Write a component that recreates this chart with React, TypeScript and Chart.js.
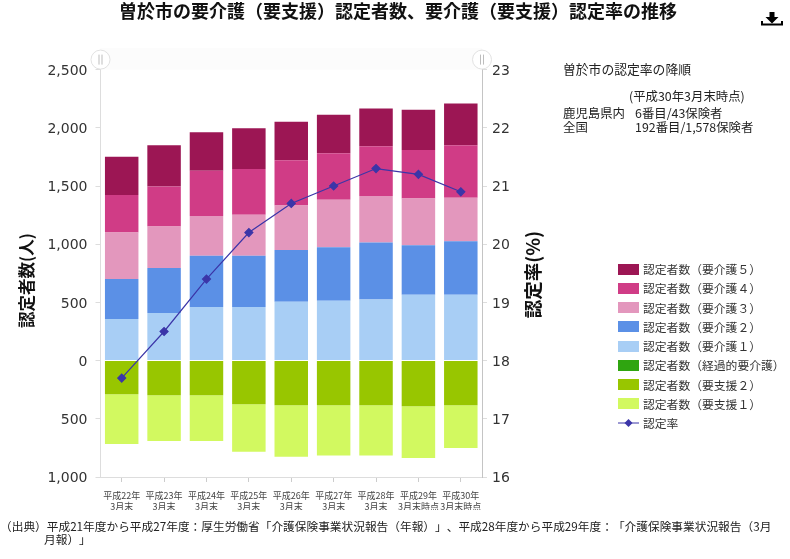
import React, { useEffect, useRef } from "react";
import { Chart, registerables } from "chart.js";

Chart.register(...registerables);

const CJK = '"Noto Sans CJK JP", "Noto Sans", sans-serif';
const LATIN = '"DejaVu Sans", sans-serif';

const titleText = "曽於市の要介護（要支援）認定者数、要介護（要支援）認定率の推移";
const leftAxisTitle = "認定者数(人)";
const rightAxisTitle = "認定率(%)";
const footnoteFirstLine =
  "（出典）平成21年度から平成27年度：厚生労働省「介護保険事業状況報告（年報）」、平成28年度から平成29年度：「介護保険事業状況報告（3月";
const footnoteSecondLine = "月報）」";

const categories = [
  ["平成22年", "3月末"],
  ["平成23年", "3月末"],
  ["平成24年", "3月末"],
  ["平成25年", "3月末"],
  ["平成26年", "3月末"],
  ["平成27年", "3月末"],
  ["平成28年", "3月末"],
  ["平成29年", "3月末時点"],
  ["平成30年", "3月末時点"],
];

const care1 = [358, 410, 460, 460, 505, 515, 525, 565, 565];
const care2 = [342, 386, 440, 440, 446, 459, 489, 426, 461];
const care3 = [400, 355, 343, 352, 381, 407, 401, 401, 372];
const care4 = [323, 344, 387, 395, 390, 401, 427, 418, 452];
const care5 = [329, 355, 332, 349, 331, 331, 323, 346, 358];
const transitional = [0, 0, 0, 0, 0, 0, 0, 0, 0];
const support2 = [-289, -297, -297, -375, -383, -383, -383, -392, -383];
const support1 = [-427, -393, -393, -409, -444, -433, -433, -444, -367];
const rate = [17.7, 18.5, 19.4, 20.2, 20.7, 21.0, 21.3, 21.2, 20.9];

const legendRows = [
  { label: "認定者数（要介護５）", color: "#9c1654" },
  { label: "認定者数（要介護４）", color: "#d03c86" },
  { label: "認定者数（要介護３）", color: "#e397bd" },
  { label: "認定者数（要介護２）", color: "#5b90e6" },
  { label: "認定者数（要介護１）", color: "#a8cef5" },
  { label: "認定者数（経過的要介護）", color: "#2fa510" },
  { label: "認定者数（要支援２）", color: "#98c600" },
  { label: "認定者数（要支援１）", color: "#d2f960" },
];
const rateLabel = "認定率";
const rateColor = "#3b35a8";

const seriesValues = [care5, care4, care3, care2, care1, transitional, support2, support1];
const stackOrder = [4, 3, 2, 1, 0, 5, 6, 7];

const handleAndTitles = {
  id: "handleAndTitles",
  beforeDraw(chart: any) {
    const { ctx, chartArea } = chart;
    ctx.save();
    ctx.fillStyle = "#fcfcfc";
    ctx.fillRect(chartArea.left, 48, chartArea.right - chartArea.left, chartArea.top - 48);
    ctx.restore();
    if (!chart.$labelsNudged) {
      chart.$labelsNudged = true;
      for (const id of ["y", "y2"]) {
        for (const item of chart.scales[id].getLabelItems(chartArea)) item.textOffset += 1.5;
      }
    }
  },
  afterDraw(chart: any) {
    const { ctx, chartArea } = chart;
    ctx.save();
    for (const x of [chartArea.left, chartArea.right]) {
      const cy = chartArea.top - 10;
      ctx.beginPath();
      ctx.arc(x, cy, 9.5, 0, Math.PI * 2);
      ctx.fillStyle = "#ffffff";
      ctx.fill();
      ctx.strokeStyle = "#e2e2e2";
      ctx.lineWidth = 1;
      ctx.stroke();
      ctx.strokeStyle = "#bdbdbd";
      ctx.beginPath();
      ctx.moveTo(x - 1.5, cy - 5);
      ctx.lineTo(x - 1.5, cy + 5);
      ctx.moveTo(x + 1.5, cy - 5);
      ctx.lineTo(x + 1.5, cy + 5);
      ctx.stroke();
    }
    ctx.fillStyle = "#111111";
    ctx.textAlign = "center";
    ctx.textBaseline = "middle";
    ctx.font = `bold 16.5px ${CJK}`;
    ctx.translate(27, chartArea.top + 211);
    ctx.rotate(-Math.PI / 2);
    ctx.fillText(leftAxisTitle, 0, 0);
    ctx.restore();
    ctx.save();
    ctx.fillStyle = "#111111";
    ctx.textAlign = "center";
    ctx.textBaseline = "middle";
    ctx.font = `bold 18.5px ${CJK}`;
    ctx.translate(533, chartArea.top + 205);
    ctx.rotate(-Math.PI / 2);
    ctx.fillText(rightAxisTitle, 0, 0);
    ctx.restore();
  },
};

const absolute = (s: React.CSSProperties): React.CSSProperties => ({ position: "absolute", whiteSpace: "nowrap", ...s });
const noSpacingTrim: any = { textSpacingTrim: "space-all", fontFeatureSettings: '"palt" 0' };
const noteStyle = { fontFamily: CJK, fontSize: 12.4, color: "#222", lineHeight: "14px", ...noSpacingTrim };
const legendTextStyle = { fontFamily: CJK, fontSize: 11.8, lineHeight: "14px", color: "#333", ...noSpacingTrim };
const footnoteStyle = { fontFamily: CJK, fontSize: 11.7, lineHeight: "13px", color: "#222", ...noSpacingTrim };

export default function App() {
  const ref = useRef<HTMLCanvasElement>(null);

  useEffect(() => {
    const barDatasets = stackOrder.map((i) => ({
      type: "bar" as const,
      label: legendRows[i].label,
      data: seriesValues[i],
      backgroundColor: legendRows[i].color,
      yAxisID: "y",
      stack: "counts",
      order: 1,
      barPercentage: 0.79,
      categoryPercentage: 1,
    }));
    const chart = new Chart(ref.current!, {
      data: {
        labels: categories,
        datasets: [
          {
            type: "line" as const,
            label: rateLabel,
            data: rate,
            yAxisID: "y2",
            order: 0,
            borderColor: rateColor,
            backgroundColor: rateColor,
            borderWidth: 1.2,
            pointStyle: "rectRot",
            pointRadius: 4,
            tension: 0,
          },
          ...barDatasets,
        ],
      } as any,
      plugins: [handleAndTitles],
      options: {
        responsive: false,
        animation: false,
        layout: { padding: { left: 6, right: 0, top: 0, bottom: 49 } },
        plugins: {
          legend: { display: false },
          tooltip: { enabled: false },
          title: {
            display: true,
            text: titleText,
            color: "#111",
            font: { family: CJK, size: 18, weight: "bold" },
            padding: { top: 0, bottom: 48 },
          },
        },
        scales: {
          x: {
            stacked: true,
            afterFit: (s: any) => { s.height = 33; },
            border: { color: "#dddddd" },
            grid: { offset: false, drawOnChartArea: false, tickLength: 5, color: "#cccccc" },
            ticks: {
              color: "#444",
              padding: 8,
              maxRotation: 0,
              autoSkip: false,
              font: { family: CJK, size: 9, lineHeight: 1.22 },
            },
          },
          y: {
            stacked: true,
            position: "left",
            min: -1000,
            max: 2500,
            afterFit: (s: any) => { s.width = 94.5; },
            border: { color: "#dddddd" },
            grid: { drawOnChartArea: false, tickLength: 5, color: "#dddddd" },
            ticks: {
              stepSize: 500,
              color: "#333",
              padding: 8,
              font: { family: LATIN, size: 14 },
              callback: (v: any) => Math.abs(Number(v)).toLocaleString("en-US"),
            },
          },
          y2: {
            position: "right",
            min: 16,
            max: 23,
            afterFit: (s: any) => { s.width = 308; },
            border: { color: "#c4c4c4" },
            grid: { drawOnChartArea: false, tickLength: 5, color: "#dddddd" },
            ticks: {
              stepSize: 1,
              color: "#333",
              padding: 5,
              font: { family: LATIN, size: 14 },
            },
          },
        },
      } as any,
    });
    return () => chart.destroy();
  }, []);

  return (
    <div style={{ position: "fixed", left: 0, top: 0, width: 790, height: 559, background: "#fff", overflow: "hidden" }}>
      <canvas ref={ref} width={790} height={559} style={{ position: "absolute", left: 0, top: 0 }} />

      <svg width="22" height="16" style={{ position: "absolute", left: 761, top: 11 }}>
        <path d="M8.500 1h5v5h4l-6.500 6.500L4.500 6h4z" fill="#000" />
        <path d="M1 10v3.500h20V10" fill="none" stroke="#000" strokeWidth="2" />
      </svg>

      <div style={absolute({ ...noteStyle, fontSize: 12.8, left: 563, top: 62 })}>曽於市の認定率の降順</div>
      <div style={absolute({ ...noteStyle, left: 629, top: 89 })}>(平成30年3月末時点)</div>
      <div style={absolute({ ...noteStyle, left: 563, top: 106 })}>鹿児島県内</div>
      <div style={absolute({ ...noteStyle, left: 635, top: 106 })}>6番目/43保険者</div>
      <div style={absolute({ ...noteStyle, left: 563, top: 120 })}>全国</div>
      <div style={absolute({ ...noteStyle, left: 635, top: 120 })}>192番目/1,578保険者</div>

      {legendRows.map((row, i) => (
        <React.Fragment key={row.label}>
          <div style={{ position: "absolute", left: 618, top: 263.500 + i * 19.25, width: 21, height: 11, background: row.color }} />
          <div style={absolute({ ...legendTextStyle, left: 643, top: 262 + i * 19.25 })}>{row.label}</div>
        </React.Fragment>
      ))}
      <svg width="22" height="10" style={{ position: "absolute", left: 618, top: 418 }}>
        <line x1="0" y1="5" x2="21" y2="5" stroke={rateColor} strokeWidth="1" />
        <path d="M10.500 1l4 4-4 4-4-4z" fill={rateColor} />
      </svg>
      <div style={absolute({ ...legendTextStyle, left: 643, top: 416 })}>{rateLabel}</div>

      <div style={absolute({ ...footnoteStyle, left: 0, top: 519 })}>{footnoteFirstLine}</div>
      <div style={absolute({ ...footnoteStyle, left: 44, top: 532 })}>{footnoteSecondLine}</div>
    </div>
  );
}
